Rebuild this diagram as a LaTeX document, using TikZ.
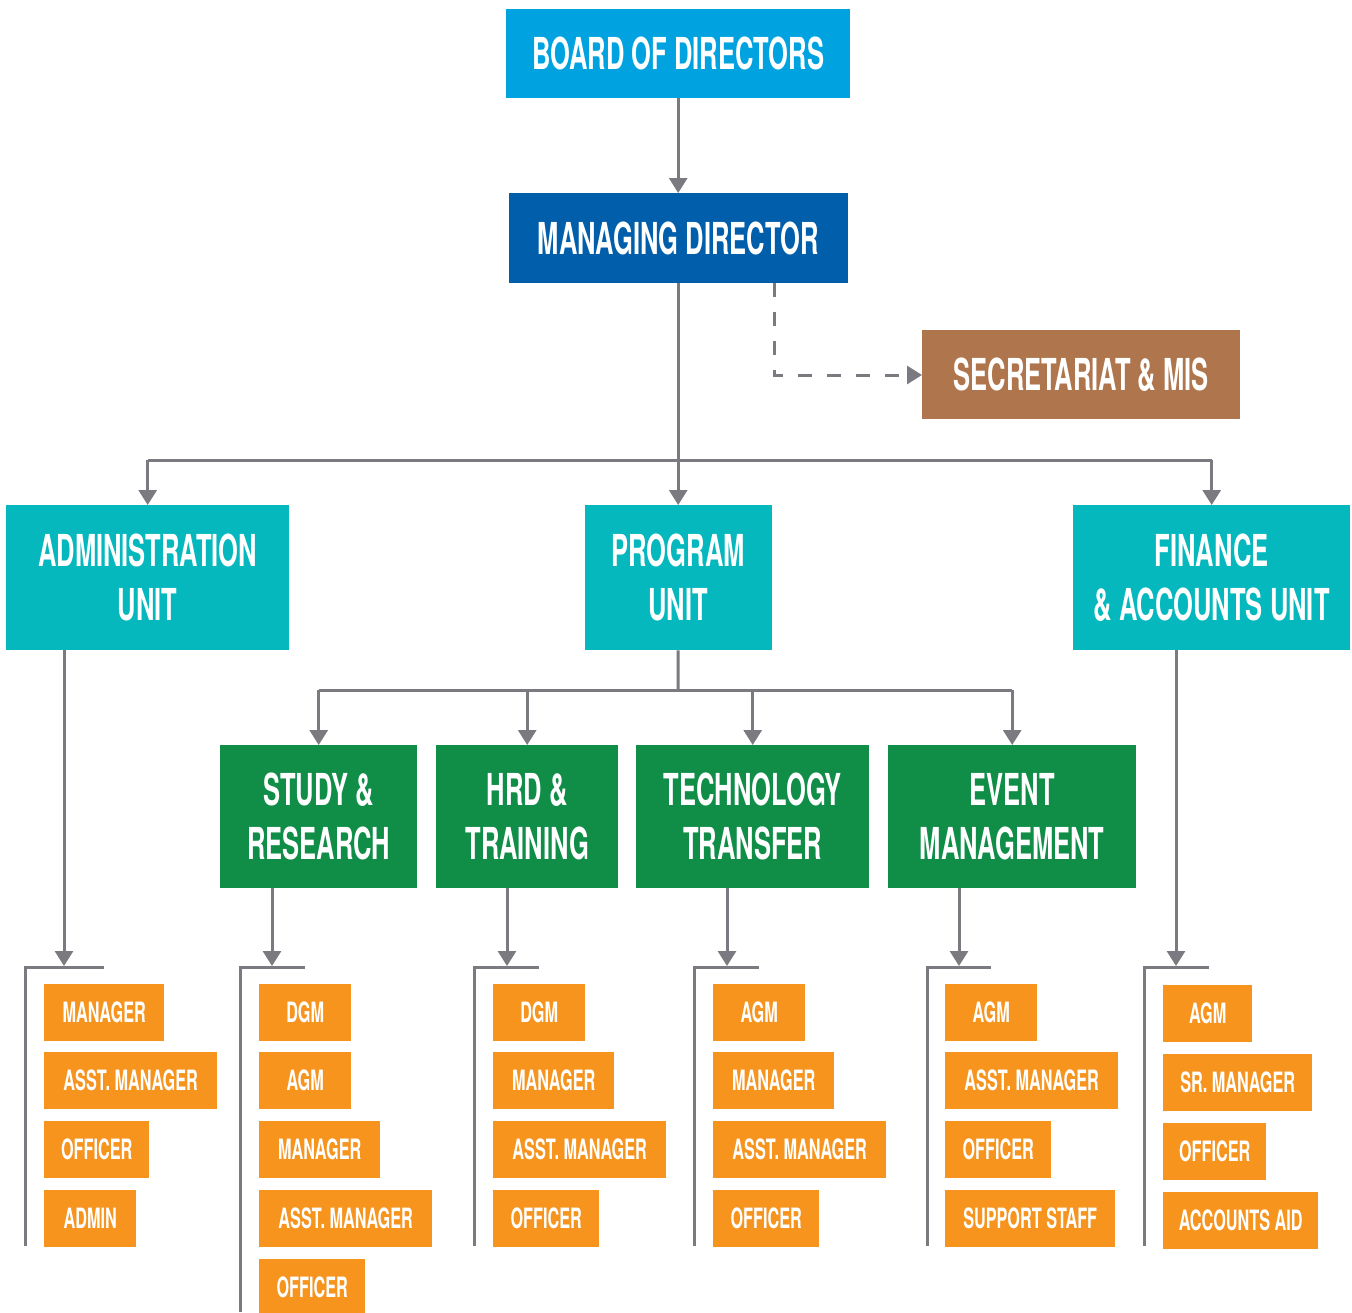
\documentclass[tikz,border=0pt]{standalone}
\usepackage{fontspec}
\setmainfont{TeX Gyre Heros}[FakeStretch=0.58]
\usetikzlibrary{arrows.meta}
\definecolor{cBoard}{RGB}{0,163,224}
\definecolor{cMD}{RGB}{0,94,170}
\definecolor{cSec}{RGB}{175,118,77}
\definecolor{cTeal}{RGB}{4,184,190}
\definecolor{cGreen}{RGB}{16,142,72}
\definecolor{cOrange}{RGB}{247,148,30}
\definecolor{cLine}{RGB}{122,122,128}
\tikzset{
  big/.style={draw=none, inner sep=0pt, anchor=north west, text=white, align=center,
    font=\bfseries\fontsize{44}{54}\selectfont},
  obox/.style={fill=cOrange, inner sep=0pt, anchor=north west, text=white, minimum height=57pt,
    font=\bfseries\fontsize{28}{30}\selectfont},
  conn/.style={draw=cLine, line width=3pt},
  arr/.style={conn, -{Triangle[width=18pt,length=15pt]}},
  dasharr/.style={draw=cLine, line width=3pt, dash pattern=on 14pt off 15pt, -{Triangle[width=18pt,length=15pt]}},
}
\newcommand{\obx}[5]{\node[obox, minimum width=#4pt] (#1) at (#2,#3) {#5};}
\begin{document}
\begin{tikzpicture}[x=1pt,y=-1pt]
\useasboundingbox (0,0) rectangle (1352,1312);
% top level
\node[big, fill=cBoard, minimum width=344pt, minimum height=89pt] (board) at (506,9) {BOARD OF DIRECTORS};
\node[big, fill=cMD, minimum width=339pt, minimum height=90pt] (md) at (508.5,193) {MANAGING DIRECTOR};
\node[big, fill=cSec, minimum width=318pt, minimum height=89pt] (sec) at (922,330) {SECRETARIAT \& MIS};
% units
\node[big, fill=cTeal, minimum width=283pt, minimum height=145pt] (adm) at (6,505) {ADMINISTRATION\\UNIT};
\node[big, fill=cTeal, minimum width=187pt, minimum height=145pt] (prog) at (584.5,505) {PROGRAM\\UNIT};
\node[big, fill=cTeal, minimum width=277pt, minimum height=145pt] (fin) at (1073,505) {FINANCE\\\& ACCOUNTS UNIT};
% program sub-units
\node[big, fill=cGreen, minimum width=197pt, minimum height=143pt] (study) at (220,745) {STUDY \&\\RESEARCH};
\node[big, fill=cGreen, minimum width=182pt, minimum height=143pt] (hrd) at (436,745) {HRD \&\\TRAINING};
\node[big, fill=cGreen, minimum width=233pt, minimum height=143pt] (tech) at (636,745) {TECHNOLOGY\\TRANSFER};
\node[big, fill=cGreen, minimum width=248pt, minimum height=143pt] (event) at (888,745) {EVENT\\MANAGEMENT};
% connectors top
\draw[arr] (board.south) -- (md.north);
\draw[arr] (md.south) -- (prog.north);
\coordinate (dcorner) at (774,375);
\draw[dasharr] (md.south -| dcorner) -- (dcorner) -- (sec.west |- dcorner);
\coordinate (hbar) at (678,460);
\draw[conn] (adm.north |- hbar) -- (fin.north |- hbar);
\draw[arr] (adm.north |- hbar) -- (adm.north);
\draw[arr] (fin.north |- hbar) -- (fin.north);
\coordinate (pbar) at (678,690);
\draw[conn] (prog.south) -- (pbar);
\draw[conn] (study.north |- pbar) -- (event.north |- pbar);
\foreach \n in {study,hrd,tech,event} \draw[arr] (\n.north |- pbar) -- (\n.north);
% down arrows to brackets
\coordinate (ba) at (64,966);   \draw[arr] (adm.south -| ba) -- (ba);
\coordinate (bs) at (272,966);  \draw[arr] (study.south -| bs) -- (bs);
\coordinate (bh) at (507,966);  \draw[arr] (hrd.south -| bh) -- (bh);
\coordinate (bt) at (727,966);  \draw[arr] (tech.south -| bt) -- (bt);
\coordinate (be) at (959,966);  \draw[arr] (event.south -| be) -- (be);
\coordinate (bf) at (1176,966); \draw[arr] (fin.south -| bf) -- (bf);
% brackets
\draw[conn] (25,1246) -- (25,967.5) -- (104,967.5);
\draw[conn] (240,1312) -- (240,967.5) -- (305,967.5);
\draw[conn] (474,1246) -- (474,967.5) -- (539,967.5);
\draw[conn] (694,1246) -- (694,967.5) -- (759,967.5);
\draw[conn] (927,1246) -- (927,967.5) -- (991,967.5);
\draw[conn] (1144,1246) -- (1144,967.5) -- (1209,967.5);
% admin column
\obx{a1}{44}{984}{120}{MANAGER}
\obx{a2}{44}{1052}{173}{ASST. MANAGER}
\obx{a3}{44}{1121}{105}{OFFICER}
\obx{a4}{44}{1190}{92}{ADMIN}
% study column
\obx{s1}{259}{984}{92}{DGM}
\obx{s2}{259}{1052}{92}{AGM}
\obx{s3}{259}{1121}{121}{MANAGER}
\obx{s4}{259}{1190}{173}{ASST. MANAGER}
\obx{s5}{259}{1259}{106}{OFFICER}
% hrd column
\obx{h1}{493}{984}{92}{DGM}
\obx{h2}{493}{1052}{121}{MANAGER}
\obx{h3}{493}{1121}{173}{ASST. MANAGER}
\obx{h4}{493}{1190}{106}{OFFICER}
% tech column
\obx{t1}{713}{984}{92}{AGM}
\obx{t2}{713}{1052}{121}{MANAGER}
\obx{t3}{713}{1121}{173}{ASST. MANAGER}
\obx{t4}{713}{1190}{106}{OFFICER}
% event column
\obx{e1}{945}{984}{92}{AGM}
\obx{e2}{945}{1052}{173}{ASST. MANAGER}
\obx{e3}{945}{1121}{106}{OFFICER}
\obx{e4}{945}{1190}{170}{SUPPORT STAFF}
% finance column
\obx{f1}{1163}{985}{89}{AGM}
\obx{f2}{1163}{1054}{149}{SR. MANAGER}
\obx{f3}{1163}{1123}{103}{OFFICER}
\obx{f4}{1163}{1192}{155}{ACCOUNTS AID}
\end{tikzpicture}
\end{document}
